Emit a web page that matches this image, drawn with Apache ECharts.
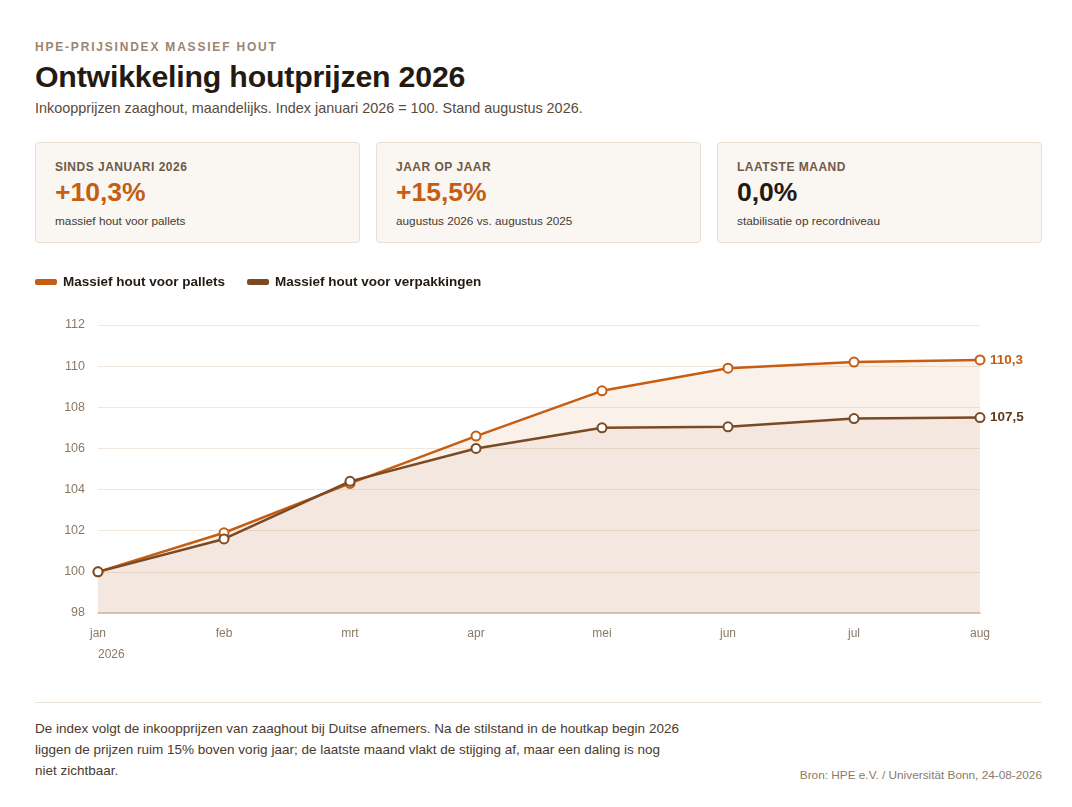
<!DOCTYPE html>
<html><head><meta charset="utf-8">
<script src="https://cdn.jsdelivr.net/npm/echarts@6/dist/echarts.min.js"></script>
<style>
html,body{margin:0;padding:0;background:#fff;font-family:"Liberation Sans",Arial,Helvetica,sans-serif;}
#page{position:relative;width:1072px;height:807px;overflow:hidden;}
.kicker{position:absolute;left:35px;top:40px;font-size:12px;font-weight:bold;letter-spacing:1.8px;color:#9a8472;}
.title{position:absolute;left:35px;top:60px;font-size:30.3px;font-weight:bold;color:#231a12;letter-spacing:-0.2px;}
.sub{position:absolute;left:35px;top:100px;font-size:14.4px;color:#5a4a3c;}
.card{position:absolute;top:142px;width:325px;height:101px;box-sizing:border-box;background:#faf6f1;border:1px solid #ebdfd2;border-radius:4px;}
.card .lab{position:absolute;left:19px;top:17px;font-size:12px;font-weight:bold;letter-spacing:0.5px;color:#6f5a48;}
.card .val{position:absolute;left:19px;top:34px;font-size:26.5px;font-weight:bold;}
.card .txt{position:absolute;left:19px;top:71px;font-size:11.8px;color:#4a3a2e;}
#chart{position:absolute;left:0;top:260px;width:1072px;height:420px;}
.rule{position:absolute;left:35px;top:702px;width:1007px;height:1px;background:#ece2d7;}
.note{position:absolute;left:35px;top:718px;width:648px;font-size:13.5px;line-height:21px;color:#4a3a2c;}
.src{position:absolute;right:30px;top:768px;font-size:11.8px;color:#8a7a6a;}
</style></head>
<body><div id="page">
<div class="kicker">HPE-PRIJSINDEX MASSIEF HOUT</div>
<div class="title">Ontwikkeling houtprijzen 2026</div>
<div class="sub">Inkoopprijzen zaaghout, maandelijks. Index januari 2026 = 100. Stand augustus 2026.</div>
<div class="card" style="left:35px"><div class="lab">SINDS JANUARI 2026</div><div class="val" style="color:#c45e14">+10,3%</div><div class="txt">massief hout voor pallets</div></div>
<div class="card" style="left:376px"><div class="lab">JAAR OP JAAR</div><div class="val" style="color:#c45e14">+15,5%</div><div class="txt">augustus 2026 vs. augustus 2025</div></div>
<div class="card" style="left:717px"><div class="lab">LAATSTE MAAND</div><div class="val" style="color:#231a12">0,0%</div><div class="txt">stabilisatie op recordniveau</div></div>
<div id="chart"></div>
<div class="rule"></div>
<div class="note">De index volgt de inkoopprijzen van zaaghout bij Duitse afnemers. Na de stilstand in de houtkap begin 2026 liggen de prijzen ruim 15% boven vorig jaar; de laatste maand vlakt de stijging af, maar een daling is nog niet zichtbaar.</div>
<div class="src">Bron: HPE e.V. / Universität Bonn, 24-08-2026</div>
</div>
<script>
const months = ['jan','feb','mrt','apr','mei','jun','jul','aug'];
const pallets = [100, 101.9, 104.3, 106.6, 108.8, 109.9, 110.2, 110.3];
const verpakkingen = [100, 101.6, 104.4, 106.0, 107.0, 107.05, 107.45, 107.5];
const seriesNames = ['Massief hout voor pallets', 'Massief hout voor verpakkingen'];
const yTicks = {min: 98, max: 112, interval: 2};
const orange = '#c65d12', brown = '#7a4a24';
const fmt = v => v.toFixed(1).replace('.', ',');

const chart = echarts.init(document.getElementById('chart'), null, {renderer: 'canvas'});
chart.setOption({
  animation: false,
  textStyle: {fontFamily: '"Liberation Sans", Arial, sans-serif'},
  legend: {
    left: 35, top: 15, padding: 0, itemWidth: 20, itemHeight: 4, itemGap: 22, icon: 'roundRect',
    textStyle: {fontSize: 13.5, fontWeight: 'bold', color: '#231a12', padding: [0,0,0,2]},
    data: seriesNames
  },
  grid: {left: 98, right: 92, top: 65, bottom: 67},
  xAxis: {
    type: 'category', boundaryGap: false, data: months,
    axisLine: {lineStyle: {color: '#cdbcac', width: 1.5}},
    axisTick: {show: false},
    axisLabel: {color: '#8a7866', fontSize: 12, margin: 15}
  },
  yAxis: {
    type: 'value', min: yTicks.min, max: yTicks.max, interval: yTicks.interval,
    axisLine: {show: false}, axisTick: {show: false},
    axisLabel: {color: '#8a7866', fontSize: 12.5, margin: 13},
    splitLine: {lineStyle: {color: 'rgba(215,185,155,0.35)', width: 1}}
  },
  graphic: [{type: 'text', left: 98, top: 389, style: {text: '2026', fontSize: 12, fill: '#8a7866', fontFamily: '"Liberation Sans", Arial, sans-serif'}}],
  series: [
    {
      name: seriesNames[0], type: 'line', data: pallets, z: 3,
      lineStyle: {color: orange, width: 2.5}, itemStyle: {color: orange, borderColor: orange, borderWidth: 2},
      symbol: 'emptyCircle', symbolSize: 9, showSymbol: true,
      areaStyle: {color: 'rgba(198,93,18,0.12)', origin: 'start'},
      endLabel: {show: true, formatter: p => fmt(p.value), color: orange, fontWeight: 'bold', fontSize: 13.5, distance: 10}
    },
    {
      name: seriesNames[1], type: 'line', data: verpakkingen, z: 4,
      lineStyle: {color: brown, width: 2.5}, itemStyle: {color: brown, borderColor: brown, borderWidth: 2},
      symbol: 'emptyCircle', symbolSize: 9, showSymbol: true,
      areaStyle: {color: 'rgba(122,74,36,0.085)', origin: 'start'},
      endLabel: {show: true, formatter: p => fmt(p.value), color: '#5e3a1c', fontWeight: 'bold', fontSize: 13.5, distance: 10}
    }
  ]
});
</script>
</body></html>
